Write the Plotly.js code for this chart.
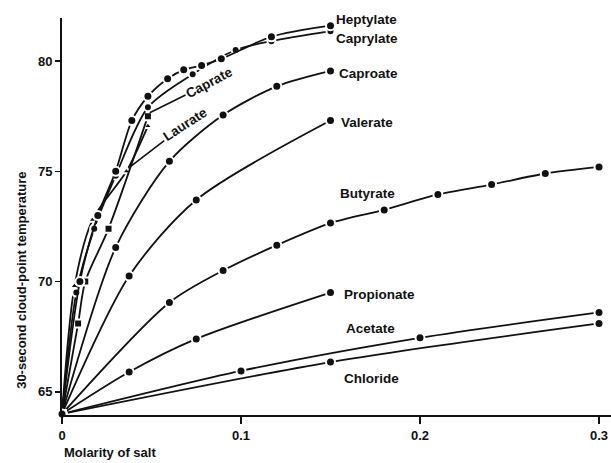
<!DOCTYPE html>
<html>
<head>
<meta charset="utf-8">
<script src="https://cdn.plot.ly/plotly-3.0.1.min.js"></script>
<style>html,body{margin:0;padding:0;background:#fff;}#chart{width:611px;height:463px;}</style>
</head>
<body>
<div id="chart"></div>
<script>
// Series values (molarity of salt, 30-second cloud-point temperature)
const heptylateX = [0, 0.010, 0.020, 0.030, 0.039, 0.048, 0.059, 0.068, 0.078, 0.089, 0.117, 0.150];
const heptylateY = [64, 70.0, 73.0, 75.0, 77.3, 78.4, 79.2, 79.6, 79.8, 80.1, 81.1, 81.6];
const caprylateX = [0, 0.008, 0.018, 0.030, 0.048, 0.073, 0.097, 0.117, 0.150];
const caprylateY = [64, 69.5, 72.4, 74.8, 77.9, 79.4, 80.5, 80.9, 81.35];
const caprateX = [0, 0.009, 0.013, 0.026, 0.048];
const caprateY = [64, 68.1, 70.0, 72.4, 77.5];
const laurateX = [0, 0.007, 0.017, 0.036, 0.048];
const laurateY = [64, 69.8, 72.8, 75.0, 77.05];
const caproateX = [0, 0.03, 0.06, 0.09, 0.12, 0.15];
const caproateY = [64, 71.55, 75.45, 77.55, 78.85, 79.55];
const valerateX = [0, 0.0375, 0.075, 0.15];
const valerateY = [64, 70.25, 73.7, 77.3];
const butyrateX = [0, 0.06, 0.09, 0.12, 0.15, 0.18, 0.21, 0.24, 0.27, 0.30];
const butyrateY = [64, 69.05, 70.5, 71.65, 72.65, 73.25, 73.95, 74.4, 74.9, 75.2];
const propionateX = [0, 0.0375, 0.075, 0.15];
const propionateY = [64, 65.9, 67.4, 69.5];
const acetateX = [0, 0.1, 0.2, 0.3];
const acetateY = [64, 65.95, 67.45, 68.6];
const chlorideX = [0, 0.15, 0.3];
const chlorideY = [64, 66.35, 68.1];
const xTicks = [0, 0.1, 0.2, 0.3];
const xTickText = ['0', '0.1', '0.2', '0.3'];
const yTicks = [65, 70, 75, 80];

const ink = '#111';
const FONT = 'Liberation Sans, Arial, sans-serif';

function series(x, y, symbol, size) {
  return {
    x: x, y: y, type: 'scatter', mode: 'lines+markers',
    line: {color: ink, width: 1.8, shape: 'spline', smoothing: 0.8},
    marker: {color: ink, symbol: symbol, size: size, line: {color: '#fff', width: 2}},
    hoverinfo: 'skip', cliponaxis: false, showlegend: false
  };
}

const data = [
  series(chlorideX, chlorideY, 'circle', 9),
  series(acetateX, acetateY, 'circle', 9),
  series(propionateX, propionateY, 'circle', 9),
  series(butyrateX, butyrateY, 'circle', 9),
  series(valerateX, valerateY, 'circle', 9),
  series(caproateX, caproateY, 'circle', 9),
  series(laurateX, laurateY, 'triangle-up', 8),
  series(caprateX, caprateY, 'square', 8),
  series(caprylateX, caprylateY, 'circle', 8),
  series(heptylateX, heptylateY, 'circle', 9)
];

const lab = {family: FONT, size: 13.5, color: ink, weight: 'bold'};
function label(text, x, y) {
  return {text: text, x: x, y: y, xref: 'x', yref: 'y', xanchor: 'left', yanchor: 'middle', showarrow: false, font: lab};
}

const layout = {
  width: 611, height: 463,
  margin: {l: 62, r: 0, t: 18, b: 48},
  paper_bgcolor: '#fff', plot_bgcolor: '#fff',
  xaxis: {
    range: [0, 0.3067], showgrid: false, zeroline: false,
    showline: true, linecolor: ink, linewidth: 2,
    ticks: 'outside', ticklen: 7, tickwidth: 1.5, tickcolor: ink,
    tickvals: xTicks, ticktext: xTickText,
    tickfont: {family: FONT, size: 13, color: ink, weight: 'bold'}
  },
  yaxis: {
    range: [63.95, 81.95], showgrid: false, zeroline: false,
    showline: true, linecolor: ink, linewidth: 2,
    ticks: 'outside', ticklen: 5, tickwidth: 1.5, tickcolor: ink,
    tickvals: yTicks,
    tickfont: {family: FONT, size: 13, color: ink, weight: 'bold'}
  },
  annotations: [
    label('Heptylate', 0.1520, 81.90),
    label('Caprylate', 0.1520, 81.00),
    label('Caproate', 0.1535, 79.45),
    label('Valerate', 0.1550, 77.22),
    label('Butyrate', 0.1540, 74.00),
    label('Propionate', 0.1565, 69.40),
    label('Acetate', 0.1575, 67.88),
    label('Chloride', 0.1565, 65.62),
    {text: 'Caprate', x: 0.049, y: 77.65, xref: 'x', yref: 'y', ax: 60, ay: -30,
     textangle: -28, showarrow: true, arrowhead: 0, arrowwidth: 1.6, arrowcolor: ink, font: lab},
    {text: 'Laurate', x: 0.038, y: 75.2, xref: 'x', yref: 'y', ax: 55, ay: -42,
     textangle: -33, showarrow: true, arrowhead: 0, arrowwidth: 1.6, arrowcolor: ink, font: lab},
    {text: '30-second cloud-point temperature', xref: 'paper', yref: 'paper', x: -0.075, y: 0.34,
     xanchor: 'center', yanchor: 'middle',
     textangle: -90, showarrow: false, font: {family: FONT, size: 13, color: ink, weight: 'bold'}},
    {text: 'Molarity of salt', xref: 'paper', yref: 'paper', x: 0.0, y: -0.095, xanchor: 'left', yanchor: 'middle',
     showarrow: false, font: {family: FONT, size: 13, color: ink, weight: 'bold'}}
  ]
};

Plotly.newPlot('chart', data, layout, {displayModeBar: false, staticPlot: true});
</script>
</body>
</html>
